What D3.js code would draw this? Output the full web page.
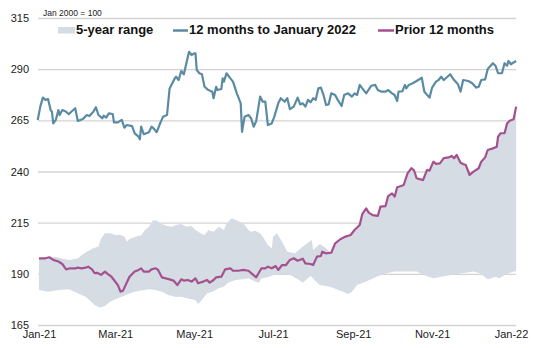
<!DOCTYPE html>
<html>
<head>
<meta charset="utf-8">
<script src="https://cdn.jsdelivr.net/npm/d3@7"></script>
<style>
  body { margin: 0; background: #fff; }
  svg { display: block; font-family: "Liberation Sans", Arial, sans-serif; }
</style>
</head>
<body>
<svg id="chart" width="533" height="348"></svg>
<script>
// days counted from 1 Jan of each 12-month window
const yTicks = [165, 190, 215, 240, 265, 290, 315];
const legendLabels = ["5-year range", "12 months to January 2022", "Prior 12 months"];

// 12 months to January 2022
const curDays = [-1, 1, 3, 5, 7, 9, 10, 11, 13, 15, 16, 18, 21, 23, 25, 28, 30, 34, 37, 39, 42, 44, 46, 49, 50, 52, 54, 57, 58, 61, 64, 66, 68, 72, 74, 77, 78, 79, 81, 85, 87, 89, 91, 94, 96, 99, 101, 105, 106, 108, 110, 112, 116, 118, 120, 121, 122, 124, 126, 128, 131, 134, 135, 137, 138, 141, 142, 143, 145, 148, 150, 153, 156, 157, 159, 162, 164, 166, 168, 171, 173, 175, 177, 180, 182, 185, 187, 190, 192, 194, 197, 200, 202, 204, 206, 208, 210, 212, 214, 216, 218, 220, 222, 224, 226, 229, 231, 234, 236, 239, 242, 244, 246, 248, 250, 253, 257, 260, 262, 265, 268, 270, 273, 275, 277, 278, 281, 283, 284, 286, 289, 292, 296, 298, 302, 304, 307, 309, 311, 313, 315, 318, 321, 324, 326, 328, 332, 335, 338, 340, 342, 345, 347, 351, 353, 355, 358, 360, 362, 363, 365, 367, 369];
const curVals = [265.2, 271.7, 276.1, 275, 275.4, 270, 269.2, 263.5, 265.2, 270, 267.6, 270, 269.2, 268, 269.2, 270.9, 264.7, 265.7, 267.6, 267.1, 269.2, 271.4, 267.6, 266, 267.3, 266.3, 268.4, 268.1, 264, 264, 265.2, 261.4, 262.7, 262.2, 258.6, 257, 255.7, 261.9, 258.2, 259.2, 261.9, 260.8, 259.2, 264, 266.8, 267.6, 280.6, 285.5, 286.3, 284.7, 289.1, 287.5, 298.5, 296.9, 297.7, 297.7, 289.6, 288, 287.5, 281.4, 279.8, 279, 275.8, 281.4, 279.8, 280.3, 285.5, 283.9, 288, 285.5, 283.9, 278.2, 273.3, 259.4, 266.8, 267.6, 266, 261.9, 264.7, 276.6, 274.1, 274.1, 262.7, 263.5, 266.8, 273.3, 275.8, 274.1, 275.8, 270.5, 271.7, 276.1, 272.8, 273.3, 271.7, 275, 273.8, 275.8, 275, 280.6, 281, 277.4, 272.5, 272.8, 278.2, 277.4, 275, 272, 277.4, 278.2, 276.6, 278.2, 277.4, 282.3, 280.6, 278.2, 281.9, 282.3, 279.8, 279, 279, 279.8, 278.2, 277.4, 274.4, 279, 279.2, 282.3, 280.6, 282.3, 283.1, 284.2, 285.8, 279, 276.1, 281, 283.9, 284.7, 286.3, 284.7, 285.8, 287.5, 284.7, 282.6, 279, 284.7, 284.2, 283.1, 281, 281.4, 284.7, 285, 290.1, 292.9, 291.7, 288, 288, 292.9, 291.7, 294, 292.4, 293.3, 294];

// prior 12 months
const priorDays = [0, 5, 8, 11, 15, 18, 21, 24, 28, 30, 33, 36, 38, 41, 43, 45, 48, 51, 53, 56, 58, 61, 63, 65, 67, 70, 74, 77, 79, 81, 85, 87, 90, 92, 95, 98, 101, 104, 107, 110, 112, 115, 118, 121, 123, 127, 130, 132, 135, 137, 141, 144, 148, 150, 154, 158, 162, 165, 168, 172, 175, 177, 180, 183, 185, 188, 191, 194, 197, 200, 204, 206, 210, 212, 215, 218, 219, 222, 226, 229, 233, 237, 241, 244, 248, 250, 253, 255, 258, 262, 264, 268, 270, 273, 275, 277, 280, 282, 285, 288, 290, 292, 297, 300, 302, 305, 307, 310, 313, 317, 319, 321, 323, 326, 328, 330, 333, 336, 340, 342, 345, 347, 351, 354, 355, 357, 360, 362, 364, 367, 369];
const priorVals = [197.6, 197.6, 198.1, 196.8, 196, 194.8, 192.2, 192.7, 192.7, 193, 192.7, 193, 193.5, 192.2, 190.3, 190.5, 189.5, 191.1, 190, 188.6, 187, 184.5, 181.3, 181.8, 184.5, 188.6, 191.1, 191.9, 192.7, 191.1, 191.1, 192.2, 192.7, 192, 188.3, 187.8, 187.3, 186.7, 184.5, 187.3, 186.7, 187, 186.2, 187.8, 185.4, 186.2, 187, 185.7, 187, 188.3, 188.6, 192.2, 192.7, 191.5, 191.5, 191.9, 191.5, 189.9, 188.3, 192.7, 192.7, 193.5, 192.7, 193.8, 191.9, 194.3, 194.3, 196.8, 197.6, 196.4, 197.4, 195.1, 194.8, 194.3, 198.4, 198.7, 200.8, 200, 200.3, 204.9, 206.9, 208.2, 209, 211.4, 213.9, 219.2, 222, 219.9, 218.7, 218.3, 222.8, 223.1, 228, 229.3, 227.7, 232.3, 232.9, 233.4, 239.1, 241.6, 240.6, 236.7, 235.8, 240.7, 240.4, 244.8, 243.7, 244, 246.5, 246.9, 247.6, 246.5, 248.1, 244.3, 243.7, 243.2, 238.3, 239.9, 241.6, 244.8, 246.9, 250.5, 251.3, 252.1, 257, 258.7, 258.7, 263.5, 264.8, 265.5, 271.7];

// 5-year range, top edge until it meets the prior-year line (~day 226)
const rangeHighDays = [0, 12, 23, 30, 33, 37, 42, 46, 48, 51, 55, 59, 63, 66, 68, 70, 74, 79, 82, 85, 88, 91, 95, 99, 103, 106, 110, 114, 118, 121, 125, 128, 131, 135, 139, 143, 145, 149, 153, 157, 159, 162, 164, 167, 171, 173, 177, 180, 181, 184, 188, 192, 198, 204, 211, 212, 217, 221];
const rangeHighVals = [197.6, 198.4, 196.8, 197.5, 199.2, 200.8, 202.5, 203.3, 207.3, 209.8, 209.8, 209, 209, 208.2, 205.7, 207, 208, 208.8, 211.4, 213, 216, 216, 214.3, 213.4, 213, 213.9, 214.3, 213, 213.4, 211.4, 209.8, 209, 211.4, 210.6, 213, 211.4, 214.6, 217.1, 216, 215, 213.9, 211.4, 210.6, 211, 209.8, 208.2, 204.1, 202.5, 208.2, 209.8, 205.7, 200.8, 200, 203.3, 206.5, 201.6, 204.6, 203];
// bottom edge
const rangeLowDays = [0, 7, 15, 23, 30, 36, 39, 43, 47, 51, 55, 59, 64, 69, 74, 79, 85, 90, 95, 100, 105, 110, 115, 121, 123, 126, 130, 134, 139, 143, 146, 152, 157, 162, 167, 170, 172, 177, 182, 188, 194, 201, 204, 210, 213, 217, 225, 230, 235, 239, 242, 246, 253, 261, 269, 275, 284, 292, 297, 305, 313, 320, 327, 336, 341, 347, 353, 356, 362, 367, 369];
const rangeLowVals = [182.1, 181.3, 182.1, 182.5, 180.5, 178.8, 177.2, 174.8, 173.6, 174.3, 176.4, 177.6, 178.8, 180.1, 181.3, 181.8, 182.5, 182.1, 181.3, 179.7, 178.8, 178.8, 178, 177.2, 175.3, 177.2, 180.5, 181.3, 183, 183.7, 185.7, 187, 187.3, 187.8, 186.2, 185.7, 187.8, 188.3, 189.5, 189.5, 189.5, 187, 185.7, 189, 187, 184.5, 183.7, 182.5, 181.3, 180.1, 181.3, 184.5, 186.2, 188.6, 190.3, 191.1, 191.1, 191.1, 189.5, 187.8, 188.8, 189.5, 190.3, 191.1, 190.3, 187.3, 188.6, 187.8, 190, 191.1, 191.1];

const colRange = "#d6dce4", colCur = "#5b8ba3", colPrior = "#a3528f";

const start = new Date(2021, 0, 1);
const toDate = d => d3.timeDay.offset(start, d);
const pts = (days, vals) => days.map((d, i) => ({ date: toDate(d), v: vals[i] }));

const svg = d3.select("#chart");
const plotL = 38, plotR = 516, plotT = 18, plotB = 325;

const x = d3.scaleTime().domain([start, new Date(2022, 0, 1)]).range([39, 511]);
const y = d3.scaleLinear().domain([165, 315]).range([plotB, plotT]);

// gridlines + y labels
const yAxis = svg.append("g")
  .attr("transform", `translate(${plotL},0)`)
  .call(d3.axisLeft(y).tickValues(yTicks).tickSize(-(plotR - plotL)).tickPadding(9));
yAxis.select(".domain").remove();
yAxis.selectAll("line").attr("stroke", "#d3d3d3").attr("stroke-width", 1.3);
yAxis.selectAll("text").attr("font-size", 11).attr("fill", "#222");

// x labels
const xAxis = svg.append("g")
  .attr("transform", `translate(0,${plotB})`)
  .call(d3.axisBottom(x).ticks(d3.timeMonth.every(2)).tickFormat(d3.timeFormat("%b-%y")).tickSize(0).tickPadding(5));
xAxis.select(".domain").remove();
xAxis.selectAll("text").attr("font-size", 11).attr("fill", "#222");

// 5-year range band
const hi = pts(rangeHighDays, rangeHighVals).concat(pts(priorDays, priorVals).filter(p => p.date >= toDate(226)));
const lo = pts(rangeLowDays, rangeLowVals).reverse();
const ln = d3.line().x(p => x(p.date)).y(p => y(p.v));
svg.append("path")
  .attr("d", ln(hi.concat(lo)) + "Z")
  .attr("fill", colRange);

svg.append("path")
  .attr("d", ln(pts(curDays, curVals)))
  .attr("fill", "none").attr("stroke", colCur).attr("stroke-width", 2.2).attr("stroke-linejoin", "round");

svg.append("path")
  .attr("d", ln(pts(priorDays, priorVals)))
  .attr("fill", "none").attr("stroke", colPrior).attr("stroke-width", 2.2).attr("stroke-linejoin", "round");

// base note
svg.append("text").attr("x", 43).attr("y", 16).attr("font-size", 8.5).attr("fill", "#222").text("Jan 2000 = 100");

// legend
const lg = svg.append("g").attr("font-size", 13).attr("font-weight", "bold").attr("fill", "#111");
lg.append("rect").attr("x", 58).attr("y", 27).attr("width", 17).attr("height", 6.5).attr("fill", colRange);
lg.append("text").attr("x", 76).attr("y", 34).text(legendLabels[0]);
lg.append("line").attr("x1", 173).attr("x2", 188).attr("y1", 30.5).attr("y2", 30.5).attr("stroke", colCur).attr("stroke-width", 2.5);
lg.append("text").attr("x", 189).attr("y", 34).text(legendLabels[1]);
lg.append("line").attr("x1", 378).attr("x2", 394).attr("y1", 30.5).attr("y2", 30.5).attr("stroke", colPrior).attr("stroke-width", 2.5);
lg.append("text").attr("x", 395).attr("y", 34).text(legendLabels[2]);
</script>
</body>
</html>
